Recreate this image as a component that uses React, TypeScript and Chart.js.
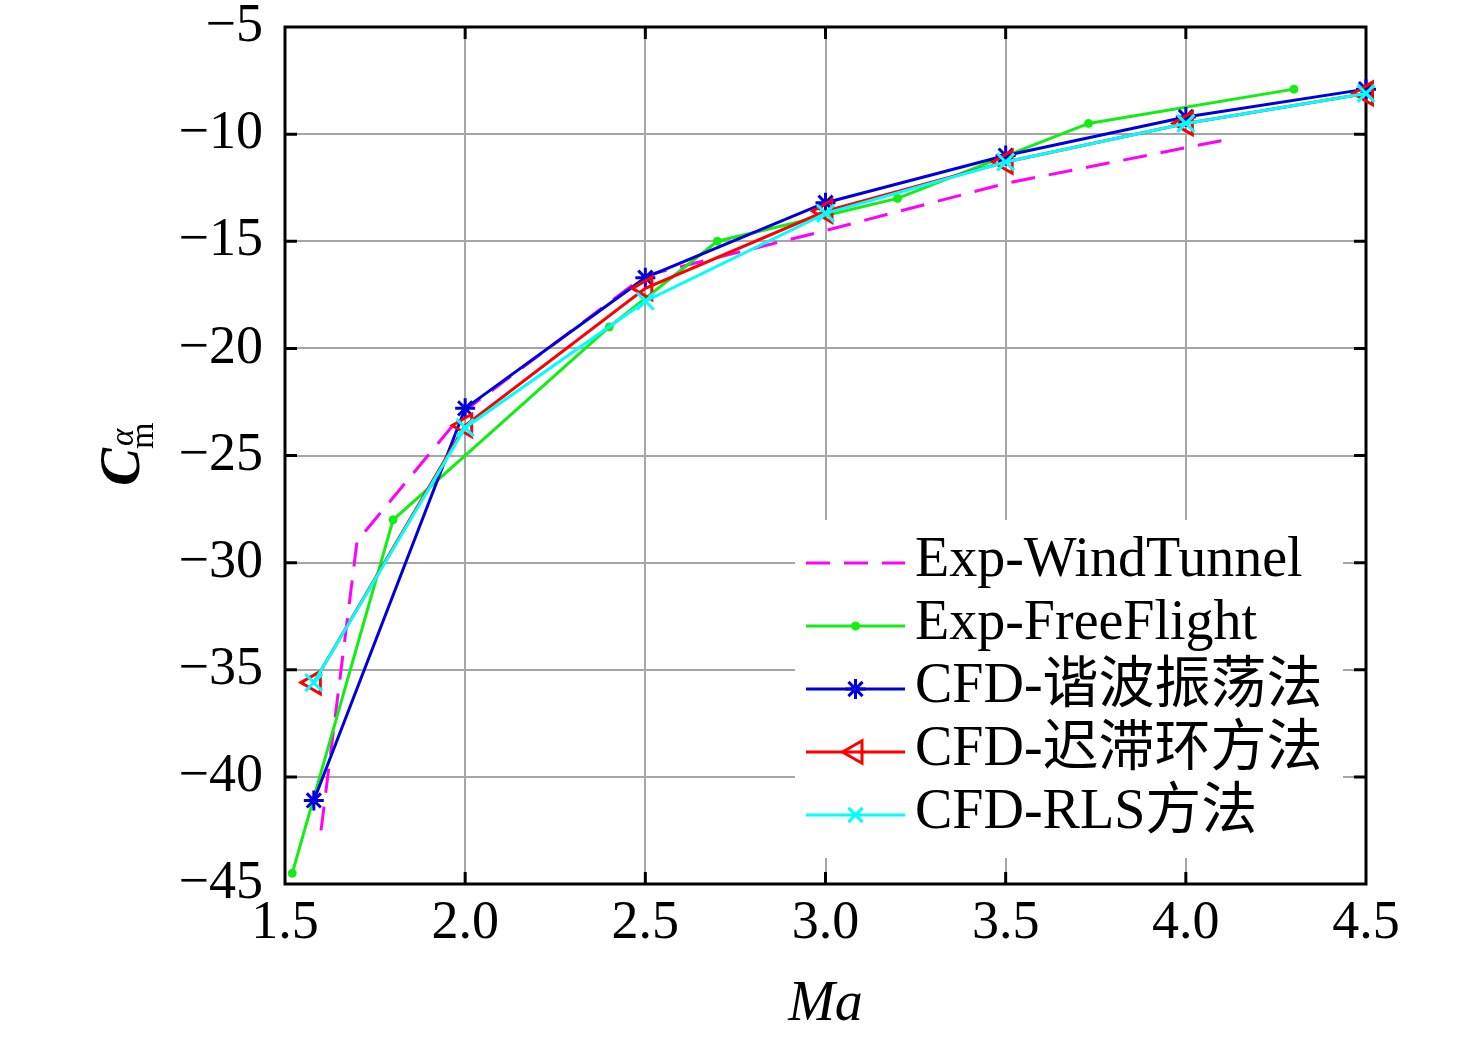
import React, { useEffect, useRef } from 'react';
import { Chart, registerables } from 'chart.js';
import { drawPoint } from 'chart.js/helpers';

Chart.register(...registerables);

// ---- data ----
const machWindTunnel = [1.6, 1.7, 2.0, 2.5, 3.0, 3.5, 4.1];
const cmWindTunnel = [-42.5, -29.0, -22.9, -16.6, -14.5, -12.3, -10.3];

const machFreeFlight = [1.52, 1.8, 2.4, 2.7, 3.2, 3.73, 4.3];
const cmFreeFlight = [-44.5, -28.0, -19.0, -15.0, -13.0, -9.5, -7.9];

const machCFD = [1.58, 2.0, 2.5, 3.0, 3.5, 4.0, 4.5];
const cmHarmonic = [-41.1, -22.8, -16.7, -13.2, -11.0, -9.2, -7.9];
const cmHysteresis = [-35.6, -23.6, -17.2, -13.6, -11.3, -9.5, -8.1];
const cmRLS = [-35.6, -23.7, -17.8, -13.7, -11.3, -9.5, -8.1];

const seriesLabels = [
  'Exp-WindTunnel',
  'Exp-FreeFlight',
  'CFD-谐波振荡法',
  'CFD-迟滞环方法',
  'CFD-RLS方法',
];

const xTicks = [1.5, 2.0, 2.5, 3.0, 3.5, 4.0, 4.5];
const yTicks = [-45, -40, -35, -30, -25, -20, -15, -10, -5];

const FONT = '"Liberation Serif", "Times New Roman", "Noto Sans CJK SC", serif';
const W = 1476;
const H = 1038;

const pts = (xs: number[], ys: number[]) => xs.map((x, i) => ({ x, y: ys[i] }));

const framePlugin = {
  id: 'frame',
  beforeDatasetsDraw(chart: any) {
    const { ctx, chartArea: a, scales } = chart;
    ctx.save();
    // legend background
    const lx = a.right - 571;
    const ly = a.top + 493;
    ctx.fillStyle = '#ffffff';
    ctx.fillRect(lx, ly, a.right - 23 - lx, a.bottom - 26 - ly);

    // frame
    ctx.strokeStyle = '#000';
    ctx.lineWidth = 3;
    ctx.beginPath();
    ctx.rect(a.left, a.top, a.right - a.left, a.bottom - a.top);
    ctx.stroke();

    // inward ticks
    const tl = 12;
    ctx.beginPath();
    xTicks.forEach((v) => {
      const px = scales.x.getPixelForValue(v);
      if (Math.abs(px - a.left) < 2 || Math.abs(px - a.right) < 2) return;
      ctx.moveTo(px, a.bottom);
      ctx.lineTo(px, a.bottom - tl);
      ctx.moveTo(px, a.top);
      ctx.lineTo(px, a.top + tl);
    });
    yTicks.forEach((v) => {
      const py = scales.y.getPixelForValue(v);
      if (Math.abs(py - a.top) < 2 || Math.abs(py - a.bottom) < 2) return;
      ctx.moveTo(a.left, py);
      ctx.lineTo(a.left + tl, py);
      ctx.moveTo(a.right, py);
      ctx.lineTo(a.right - tl, py);
    });
    ctx.stroke();

    // legend entries
    const rowGap = 63;
    const sx0 = lx + 11;
    const sx1 = lx + 110;
    chart.data.datasets.forEach((ds: any, i: number) => {
      const ry = ly + 43 + i * rowGap;
      ctx.save();
      ctx.strokeStyle = ds.borderColor;
      ctx.lineWidth = ds.borderWidth;
      ctx.setLineDash(ds.borderDash || []);
      ctx.beginPath();
      ctx.moveTo(sx0, ry);
      ctx.lineTo(sx1, ry);
      ctx.stroke();
      ctx.setLineDash([]);
      if (ds.pointRadius > 0) {
        ctx.strokeStyle = ds.pointBorderColor;
        ctx.fillStyle = ds.pointBackgroundColor;
        ctx.lineWidth = ds.pointBorderWidth;
        drawPoint(
          ctx,
          {
            pointStyle: ds.pointStyle,
            rotation: ds.pointRotation || 0,
            radius: ds.legendRadius || ds.pointRadius,
            borderWidth: ds.pointBorderWidth,
          } as any,
          (sx0 + sx1) / 2,
          ry
        );
      }
      ctx.restore();
      ctx.fillStyle = '#000';
      ctx.font = `56px ${FONT}`;
      ctx.textAlign = 'left';
      ctx.textBaseline = 'alphabetic';
      ctx.fillText(ds.label, sx1 + 10, ry + 13);
    });
    ctx.restore();
  },
  afterDraw(chart: any) {
    const { ctx, chartArea: a } = chart;
    ctx.save();
    ctx.fillStyle = '#000';
    // x title
    ctx.font = `italic 56px ${FONT}`;
    ctx.textAlign = 'center';
    ctx.textBaseline = 'alphabetic';
    ctx.fillText('Ma', (a.left + a.right) / 2, 1020);

    // y title: C_m^alpha, rotated
    ctx.translate(139, 486);
    ctx.rotate(-Math.PI / 2);
    ctx.textAlign = 'left';
    ctx.font = `italic bold 57px ${FONT}`;
    ctx.fillText('C', 0, 0);
    const cw = ctx.measureText('C').width;
    ctx.font = `34px ${FONT}`;
    ctx.fillText('m', cw - 1, 14);
    ctx.font = `italic 33px ${FONT}`;
    ctx.fillText('α', cw + 2, -6);
    ctx.restore();
  },
};

export default function App() {
  const ref = useRef<HTMLCanvasElement>(null);
  useEffect(() => {
    if (!ref.current) return;
    const chart = new Chart(ref.current, {
      type: 'line',
      data: {
        datasets: [
          {
            label: seriesLabels[0],
            data: pts(machWindTunnel, cmWindTunnel),
            borderColor: '#ff00ff',
            borderWidth: 3,
            borderDash: [24, 14],
            pointRadius: 0,
            order: 4,
          },
          {
            label: seriesLabels[1],
            data: pts(machFreeFlight, cmFreeFlight),
            borderColor: '#11ee11',
            borderWidth: 3,
            pointStyle: 'circle',
            pointRadius: 4,
            pointBorderWidth: 1,
            pointBorderColor: '#11ee11',
            pointBackgroundColor: '#11ee11',
            order: 3,
          },
          {
            label: seriesLabels[2],
            data: pts(machCFD, cmHarmonic),
            borderColor: '#0000dd',
            borderWidth: 3,
            pointStyle: 'star',
            pointRadius: 10,
            pointBorderWidth: 3,
            pointBorderColor: '#0000dd',
            pointBackgroundColor: '#0000dd',
            order: 2,
          },
          {
            label: seriesLabels[3],
            data: pts(machCFD, cmHysteresis),
            borderColor: '#ff0000',
            borderWidth: 3,
            pointStyle: 'triangle',
            pointRotation: -90,
            pointRadius: 13,
            pointBorderWidth: 3,
            pointBorderColor: '#ff0000',
            pointBackgroundColor: 'rgba(0,0,0,0)',
            order: 1,
          },
          {
            label: seriesLabels[4],
            data: pts(machCFD, cmRLS),
            borderColor: '#00ffff',
            borderWidth: 3,
            pointStyle: 'crossRot',
            pointRadius: 12,
            legendRadius: 10,
            pointBorderWidth: 3,
            pointBorderColor: '#00ffff',
            pointBackgroundColor: '#00ffff',
            order: 0,
          },
        ] as any,
      },
      options: {
        responsive: false,
        animation: false,
        devicePixelRatio: 1,
        clip: false as any,
        layout: { padding: { top: 27, right: 110, left: 0, bottom: 0 } },
        plugins: { legend: { display: false }, tooltip: { enabled: false } },
        elements: { line: { tension: 0 } },
        scales: {
          x: {
            type: 'linear',
            min: 1.5,
            max: 4.5,
            afterFit: (s: any) => {
              s.height = H - 884;
              s.paddingLeft = 0;
              s.paddingRight = 0;
            },
            afterBuildTicks: (s: any) => {
              s.ticks = xTicks.map((v) => ({ value: v }));
            },
            ticks: {
              callback: (v: any) => Number(v).toFixed(1),
              font: { family: FONT, size: 54 },
              color: '#000',
              padding: 7,
              maxRotation: 0,
              autoSkip: false,
            },
            grid: { color: '#a6a6a6', lineWidth: 2, drawTicks: false },
            border: { display: false },
          },
          y: {
            type: 'linear',
            min: -45,
            max: -5,
            afterFit: (s: any) => {
              s.width = 285;
              s.paddingTop = 0;
              s.paddingBottom = 0;
            },
            afterBuildTicks: (s: any) => {
              s.ticks = yTicks.map((v) => ({ value: v }));
            },
            ticks: {
              callback: (v: any) => (Number(v) < 0 ? '\u2212' + Math.abs(Number(v)) : String(v)),
              font: { family: FONT, size: 54 },
              color: '#000',
              padding: 22,
              autoSkip: false,
            },
            grid: { color: '#a6a6a6', lineWidth: 2, drawTicks: false },
            border: { display: false },
          },
        },
      } as any,
      plugins: [framePlugin],
    });
    return () => chart.destroy();
  }, []);
  return (
    <div style={{ position: 'fixed', left: 0, top: 0, width: W, height: H, background: '#fff' }}>
      <canvas ref={ref} width={W} height={H} style={{ width: W, height: H, display: 'block' }} />
    </div>
  );
}
